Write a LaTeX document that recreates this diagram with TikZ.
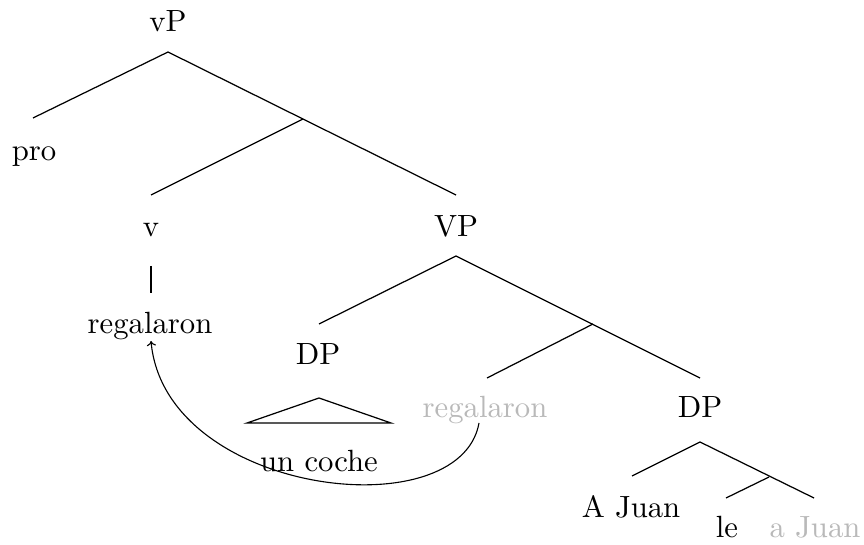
\documentclass[tikz,border=0pt]{standalone}
\usetikzlibrary{arrows.meta}
\definecolor{ghost}{RGB}{185,185,185}
\begin{document}
\begin{tikzpicture}[x=0.3257pt,y=-0.3257pt,
  lbl/.style={anchor=base,inner sep=0pt,font=\fontsize{10}{12}\selectfont},
  gho/.style={lbl,text=ghost},
  edge/.style={line width=0.4pt},
  mv/.style={line width=0.36pt,-{To[length=1.6pt,width=3pt]}}]
\useasboundingbox (0,0) rectangle (864,545);
% labels
\node[lbl] (vP) at (168,32) {vP};
\node[lbl] (pro) at (34,161) {pro};
\node[lbl] (v) at (151,237) {v};
\node[lbl] (VP) at (456,237) {VP};
\node[lbl] (reg) at (150,334) {regalaron};
\node[lbl] (DPa) at (318,365) {DP};
\node[lbl] (coche) at (319,472) {un coche};
\node[gho] (regt) at (485,418) {regalaron};
\node[lbl] (DPb) at (700,418) {DP};
\node[lbl] (AJuan) at (631,517) {A Juan};
\node[lbl] (le) at (727,537) {le};
\node[gho] (aJuan) at (815,537) {a Juan};
% branch points
\coordinate (vPt) at (168,52);
\coordinate (prot) at (33,118);
\coordinate (vbar) at (303,119);
\coordinate (vt) at (151,195);
\coordinate (VPt) at (456,195);
\coordinate (vlo) at (151,266);
\coordinate (reghi) at (151,293);
\coordinate (VPb) at (456,256);
\coordinate (DPat) at (319,324);
\coordinate (Vbar) at (593,324);
\coordinate (regtt) at (487,378);
\coordinate (DPbt) at (700,378);
\coordinate (triA) at (319,398);
\coordinate (triL) at (247,423);
\coordinate (triR) at (391,423);
\coordinate (DPbb) at (700,442);
\coordinate (AJt) at (632,476);
\coordinate (Dbar) at (769,477);
\coordinate (let) at (726,498);
\coordinate (aJt) at (814,498);
\coordinate (mvs) at (479,423);
\coordinate (mve) at (151,341);
% edges
\draw[edge] (prot) -- (vPt) -- (VPt);
\draw[edge] (vbar) -- (vt);
\draw[edge] (vlo) -- (reghi);
\draw[edge] (DPat) -- (VPb) -- (DPbt);
\draw[edge] (Vbar) -- (regtt);
\draw[edge] (triA) -- (triL) -- (triR) -- cycle;
\draw[edge] (AJt) -- (DPbb) -- (aJt);
\draw[edge] (Dbar) -- (let);
% movement arrow
\draw[mv] (mvs) .. controls (460,530) and (165,495) .. (mve);
\end{tikzpicture}
\end{document}
